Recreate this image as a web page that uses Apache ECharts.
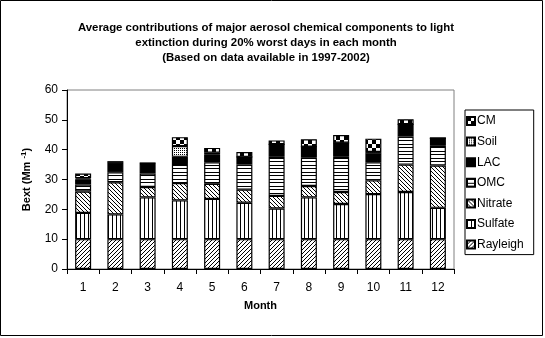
<!DOCTYPE html>
<html>
<head>
<meta charset="utf-8">
<script src="https://cdn.jsdelivr.net/npm/echarts@6/dist/echarts.min.js"></script>
<style>
html,body{margin:0;padding:0;background:#fff;}
#chart{width:545px;height:338px;}
</style>
</head>
<body>
<div id="chart"></div>
<script>
const months = ['1','2','3','4','5','6','7','8','9','10','11','12'];
const yTicks = [0, 10, 20, 30, 40, 50, 60];
const rayleigh = [10, 10, 10, 10, 10, 10, 10, 10, 10, 10, 10, 10];
const sulfate  = [8.8, 8.3, 14.0, 13.0, 13.5, 12.2, 10.3, 14.0, 11.8, 15.1, 15.8, 10.5];
const nitrate  = [7.2, 10.8, 3.5, 5.8, 5.1, 4.4, 4.2, 3.8, 4.0, 4.6, 9.2, 14.2];
const omc      = [2.3, 3.3, 4.5, 6.4, 7.2, 8.4, 13.1, 9.5, 11.8, 6.1, 9.4, 6.6];
const lac      = [1.8, 3.3, 3.3, 2.4, 2.7, 2.6, 4.2, 3.7, 4.7, 2.8, 4.1, 2.6];
const soil     = [0.3, 0.2, 0.2, 3.6, 0.5, 0, 0, 0, 0, 0.6, 0, 0];
const cm       = [1.6, 0, 0, 3.0, 1.6, 1.6, 1.3, 2.5, 2.6, 4.5, 1.7, 0];

function makePattern(w, h, draw) {
  const c = document.createElement('canvas');
  c.width = w; c.height = h;
  const ctx = c.getContext('2d');
  ctx.fillStyle = '#fff';
  ctx.fillRect(0, 0, w, h);
  ctx.fillStyle = '#000';
  draw(ctx);
  return { image: c, repeat: 'repeat' };
}
const pRayleigh = makePattern(4, 4, ctx => { ctx.fillRect(3,0,1,1); ctx.fillRect(2,1,1,1); ctx.fillRect(1,2,1,1); ctx.fillRect(0,3,1,1); });
const pNitrate = makePattern(4, 4, ctx => { ctx.fillRect(0,0,1,1); ctx.fillRect(1,1,1,1); ctx.fillRect(2,2,1,1); ctx.fillRect(3,3,1,1); });
const pSulfate = makePattern(4, 1, ctx => { ctx.fillRect(0,0,1,1); });
const pOmc = makePattern(1, 7, ctx => { ctx.fillRect(0,0,1,1); ctx.fillRect(0,4,1,1); });
const pSoil = makePattern(2, 2, ctx => { ctx.fillRect(0,0,1,1); });
const pCm = makePattern(8, 8, ctx => { ctx.fillRect(0,0,4,4); ctx.fillRect(4,4,4,4); });

const FONT = 'Liberation Sans, Arial, sans-serif';

function mk(name, data, color) {
  return {
    name: name, type: 'bar', stack: 'total', data: data, barWidth: 16,
    itemStyle: { color: color, borderColor: '#000', borderWidth: 1.2 },
    emphasis: { disabled: true },
    animation: false
  };
}

const chart = echarts.init(document.getElementById('chart'), null, { renderer: 'canvas' });
chart.setOption({
  animation: false,
  backgroundColor: '#fff',
  title: {
    text: 'Average contributions of major aerosol chemical components to light\nextinction during 20% worst days in each month\n(Based on data available in 1997-2002)',
    left: 261, top: 15, textAlign: 'center',
    textStyle: { fontFamily: FONT, fontSize: 11.4, fontWeight: 'bold', color: '#000', lineHeight: 15 }
  },
  grid: { left: 67, right: 91, top: 90, bottom: 69, show: true, borderColor: '#808080', borderWidth: 1, containLabel: false },
  legend: {
    orient: 'vertical', left: 465, top: 110,
    data: ['CM','Soil','LAC','OMC','Nitrate','Sulfate','Rayleigh'],
    icon: 'rect', itemWidth: 8, itemHeight: 8, itemGap: 6.6,
    borderColor: '#000', borderWidth: 1, padding: [4, 10, 3, 1],
    textStyle: { fontFamily: FONT, fontSize: 12, color: '#000', padding: [0,0,0,-3], lineHeight: 14 },
    selectedMode: false
  },
  xAxis: {
    type: 'category', data: months,
    name: 'Month', nameLocation: 'middle', nameGap: 31,
    nameTextStyle: { fontFamily: FONT, fontSize: 11, fontWeight: 'bold', color: '#000' },
    axisLine: { lineStyle: { color: '#000', width: 1 } },
    axisTick: { show: true, length: 5, lineStyle: { color: '#000' } },
    axisLabel: { fontFamily: FONT, fontSize: 12, color: '#000', margin: 13 }
  },
  yAxis: {
    type: 'value', min: yTicks[0], max: yTicks[yTicks.length-1], interval: 10,
    name: 'Bext (Mm {sup|-1})', nameLocation: 'middle', nameGap: 33, nameRotate: 90,
    nameTextStyle: { fontFamily: FONT, fontSize: 11, fontWeight: 'bold', color: '#000',
      rich: { sup: { fontFamily: FONT, fontSize: 8, fontWeight: 'bold', verticalAlign: 'top', padding: [0,0,6,0] } } },
    axisLine: { show: true, lineStyle: { color: '#000', width: 1 } },
    axisTick: { show: true, length: 5, lineStyle: { color: '#000' } },
    axisLabel: { fontFamily: FONT, fontSize: 12, color: '#000', margin: 9 },
    splitLine: { show: false }
  },
  graphic: [{
    type: 'rect', silent: true, z: 100,
    shape: { x: 0.5, y: 0.5, width: 542, height: 335 },
    style: { fill: 'none', stroke: '#000', lineWidth: 1 }
  }],
  series: [
    mk('Rayleigh', rayleigh, pRayleigh),
    mk('Sulfate', sulfate, pSulfate),
    mk('Nitrate', nitrate, pNitrate),
    mk('OMC', omc, pOmc),
    mk('LAC', lac, '#000'),
    mk('Soil', soil, pSoil),
    mk('CM', cm, pCm)
  ]
});
</script>
</body>
</html>
